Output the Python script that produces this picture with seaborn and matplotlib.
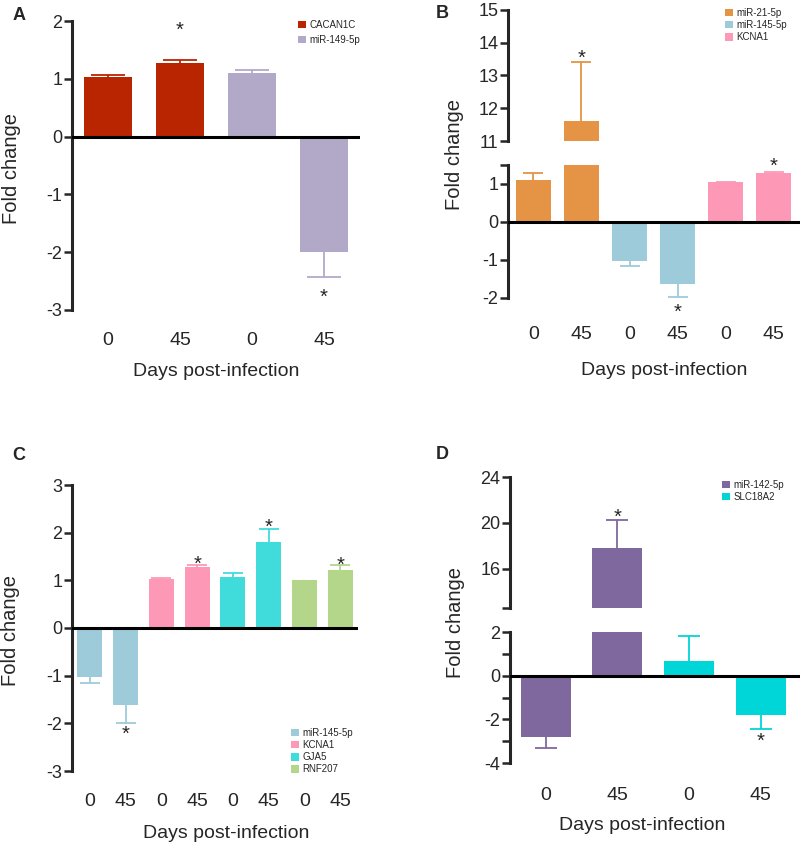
import pandas as pd
import matplotlib
matplotlib.use("Agg")
import matplotlib.pyplot as plt
import seaborn as sns

# --------------------------------------------------
# Dados
# --------------------------------------------------
a_genes = ["CACAN1C", "CACAN1C", "miR-149-5p", "miR-149-5p"]
a_days = ["0", "45", "0", "45"]
a_values = [1.03, 1.28, 1.10, -2.00]
a_errors = [0.03, 0.04, 0.06, 0.43]
a_stars = [None, 1.95, None, -2.68]
a_colors = ["#B82500", "#B2A9C8"]

b_genes = ["miR-21-5p", "miR-21-5p", "miR-145-5p", "miR-145-5p", "KCNA1", "KCNA1"]
b_days = ["0", "45", "0", "45", "0", "45"]
b_values = [1.10, 11.60, -1.03, -1.62, 1.05, 1.28]
b_errors = [0.20, 1.80, 0.12, 0.36, 0.01, 0.03]
b_stars = [None, 13.70, None, -2.20, None, 1.62]
b_colors = ["#E49444", "#9DCBDA", "#FD99B6"]

c_genes = ["miR-145-5p", "miR-145-5p", "KCNA1", "KCNA1",
           "GJA5", "GJA5", "RNF207", "RNF207"]
c_days = ["0", "45", "0", "45", "0", "45", "0", "45"]
c_values = [-1.03, -1.62, 1.03, 1.28, 1.08, 1.80, 1.00, 1.22]
c_errors = [0.13, 0.38, 0.02, 0.04, 0.07, 0.28, 0.0, 0.10]
c_stars = [None, -2.10, None, 1.47, None, 2.24, None, 1.45]
c_colors = ["#9DCBDA", "#FD99B6", "#40DCDC", "#B4D68B"]

d_genes = ["miR-142-5p", "miR-142-5p", "SLC18A2", "SLC18A2"]
d_days = ["0", "45", "0", "45"]
d_values = [-2.80, 17.80, 0.65, -1.80]
d_errors = [0.50, 2.50, 1.15, 0.65]
d_stars = [None, 21.0, None, -2.70]
d_colors = ["#7F689E", "#00D5D8"]

W, H = 800, 847


def box(left, top, right, bottom):
    return [left / W, 1 - bottom / H, (right - left) / W, (bottom - top) / H]


def draw_bars(ax, genes, values, errors, stars, colors, width, capsize, ylim):
    df = pd.DataFrame({"pos": range(len(values)), "gene": genes, "value": values})
    sns.barplot(data=df, x="pos", y="value", hue="gene", palette=colors,
                dodge=False, width=width, errorbar=None, saturation=1,
                linewidth=0, ax=ax)
    ax.set_ylim(*ylim)
    cmap = dict(zip(pd.unique(df["gene"]), colors))
    span = ylim[1] - ylim[0]
    for i, (g, v, e) in enumerate(zip(genes, values, errors)):
        yerr = [[0], [e]] if v >= 0 else [[e], [0]]
        eb = ax.errorbar(i, v, yerr=yerr, fmt="none", ecolor=cmap[g],
                         elinewidth=1.3, capsize=capsize, capthick=1.3, zorder=0.5)
        # esconde a barra de erro do lado da base
        for cap in eb.lines[1]:
            if abs(cap.get_ydata()[0] - v) < 1e-9:
                cap.set_visible(False)
        s = stars[i]
        if s is not None and ylim[0] - 0.2 * span <= s <= ylim[1] + 0.2 * span:
            ax.annotate("*", xy=(i, s), xytext=(0, -4.5),
                        textcoords="offset points", ha="center", va="center",
                        fontsize=14.5, annotation_clip=False)
    ax.set_xlabel("")
    ax.set_ylabel("")
    handles, labels = ax.get_legend_handles_labels()
    if ax.get_legend() is not None:
        ax.get_legend().remove()
    return handles, labels


def style_axis(ax, bottom_axis=True):
    for s in ["top", "right", "bottom"]:
        ax.spines[s].set_visible(False)
    ax.spines["left"].set_linewidth(2.2)
    ax.tick_params(axis="y", which="both", width=1.8, length=6, pad=1, labelsize=13)
    if bottom_axis:
        ax.axhline(0, color="black", lw=2.2, zorder=5)
    else:
        ax.tick_params(axis="x", bottom=False, labelbottom=False)


def set_days(ax, days, pad):
    ax.set_xticks(range(len(days)))
    ax.set_xticklabels(days, fontsize=14)
    ax.tick_params(axis="x", length=0, pad=pad)


def add_legend(ax, handles, labels, x, y, spacing):
    ax.legend(handles, labels, loc="upper left", bbox_to_anchor=(x / W, 1 - y / H),
              bbox_transform=fig.transFigure, frameon=False, fontsize=7,
              handlelength=0.8, handleheight=0.8, handletextpad=0.35,
              labelspacing=spacing, borderpad=0, borderaxespad=0)


sns.set_style("ticks")
plt.rcParams["font.family"] = ["Liberation Sans", "DejaVu Sans"]

fig = plt.figure(figsize=(8, 8.47), dpi=100)

# --------------------------------------------------
# A
# --------------------------------------------------
ax_a = fig.add_axes(box(72, 21, 360, 310))
h, l = draw_bars(ax_a, a_genes, a_values, a_errors, a_stars, a_colors, 0.68, 12.5, (-3, 2))
style_axis(ax_a)
ax_a.set_xlim(-0.5, 3.5)
ax_a.set_yticks([-3, -2, -1, 0, 1, 2])
ax_a.set_yticklabels(["-3", "-2", "-1", "0", "1", "2"])
set_days(ax_a, a_days, 16)
add_legend(ax_a, h, l, 298, 20, 0.5)

# --------------------------------------------------
# B (eixo quebrado)
# --------------------------------------------------
ax_bt = fig.add_axes(box(508, 10, 800, 141))
ax_bb = fig.add_axes(box(508, 165, 800, 298))
h, l = draw_bars(ax_bt, b_genes, b_values, b_errors, b_stars, b_colors, 0.72, 7.5, (11, 15))
draw_bars(ax_bb, b_genes, b_values, b_errors, b_stars, b_colors, 0.72, 7.5, (-2, 1.5))
style_axis(ax_bt, bottom_axis=False)
style_axis(ax_bb)
for ax in (ax_bt, ax_bb):
    ax.set_xlim(-0.53, 5.55)
ax_bt.set_yticks([11, 12, 13, 14, 15])
ax_bt.set_yticklabels(["11", "12", "13", "14", "15"])
ax_bb.set_yticks([-2, -1, 0, 1, 1.5])
ax_bb.set_yticklabels(["-2", "-1", "0", "1", ""])
set_days(ax_bb, b_days, 20)
add_legend(ax_bt, h, l, 725, 8, 0.22)

# --------------------------------------------------
# C
# --------------------------------------------------
ax_c = fig.add_axes(box(72, 485, 358, 771))
h, l = draw_bars(ax_c, c_genes, c_values, c_errors, c_stars, c_colors, 0.7, 7, (-3, 3))
style_axis(ax_c)
ax_c.set_xlim(-0.5, 7.5)
ax_c.set_yticks([-3, -2, -1, 0, 1, 2, 3])
ax_c.set_yticklabels(["-3", "-2", "-1", "0", "1", "2", "3"])
set_days(ax_c, c_days, 16)
add_legend(ax_c, h, l, 291, 728, 0.22)

# --------------------------------------------------
# D (eixo quebrado)
# --------------------------------------------------
ax_dt = fig.add_axes(box(510, 477, 800, 608))
ax_db = fig.add_axes(box(510, 632, 800, 763))
h, l = draw_bars(ax_dt, d_genes, d_values, d_errors, d_stars, d_colors, 0.7, 8, (12.6, 24))
draw_bars(ax_db, d_genes, d_values, d_errors, d_stars, d_colors, 0.7, 8, (-4, 2))
style_axis(ax_dt, bottom_axis=False)
style_axis(ax_db)
for ax in (ax_dt, ax_db):
    ax.set_xlim(-0.5, 3.55)
ax_dt.set_yticks([12.6, 16, 20, 24])
ax_dt.set_yticklabels(["", "16", "20", "24"])
ax_db.set_yticks([-4, -2, 0, 2])
ax_db.set_yticklabels(["-4", "-2", "0", "2"])
ax_db.set_yticks([-3, -1, 1], minor=True)
set_days(ax_db, d_days, 17)
add_legend(ax_dt, h, l, 722, 480, 0.22)

# --------------------------------------------------
# Rótulos
# --------------------------------------------------
for x, y in [(12, 168), (454, 155), (11, 630), (456, 622)]:
    fig.text(x / W, 1 - y / H, "Fold change", rotation=90, ha="center",
             va="center", fontsize=14.5)
for x, y in [(216, 372), (664, 370), (226, 833), (642, 825)]:
    fig.text(x / W, 1 - y / H, "Days post-infection", ha="center",
             va="center", fontsize=14)
for letter, x, y in [("A", 19, 15), ("B", 442, 14), ("C", 19, 455), ("D", 442, 454)]:
    fig.text(x / W, 1 - y / H, letter, ha="center", va="center",
             fontsize=13, fontweight="bold")

fig.savefig("out.png", dpi=100)
plt.close(fig)
